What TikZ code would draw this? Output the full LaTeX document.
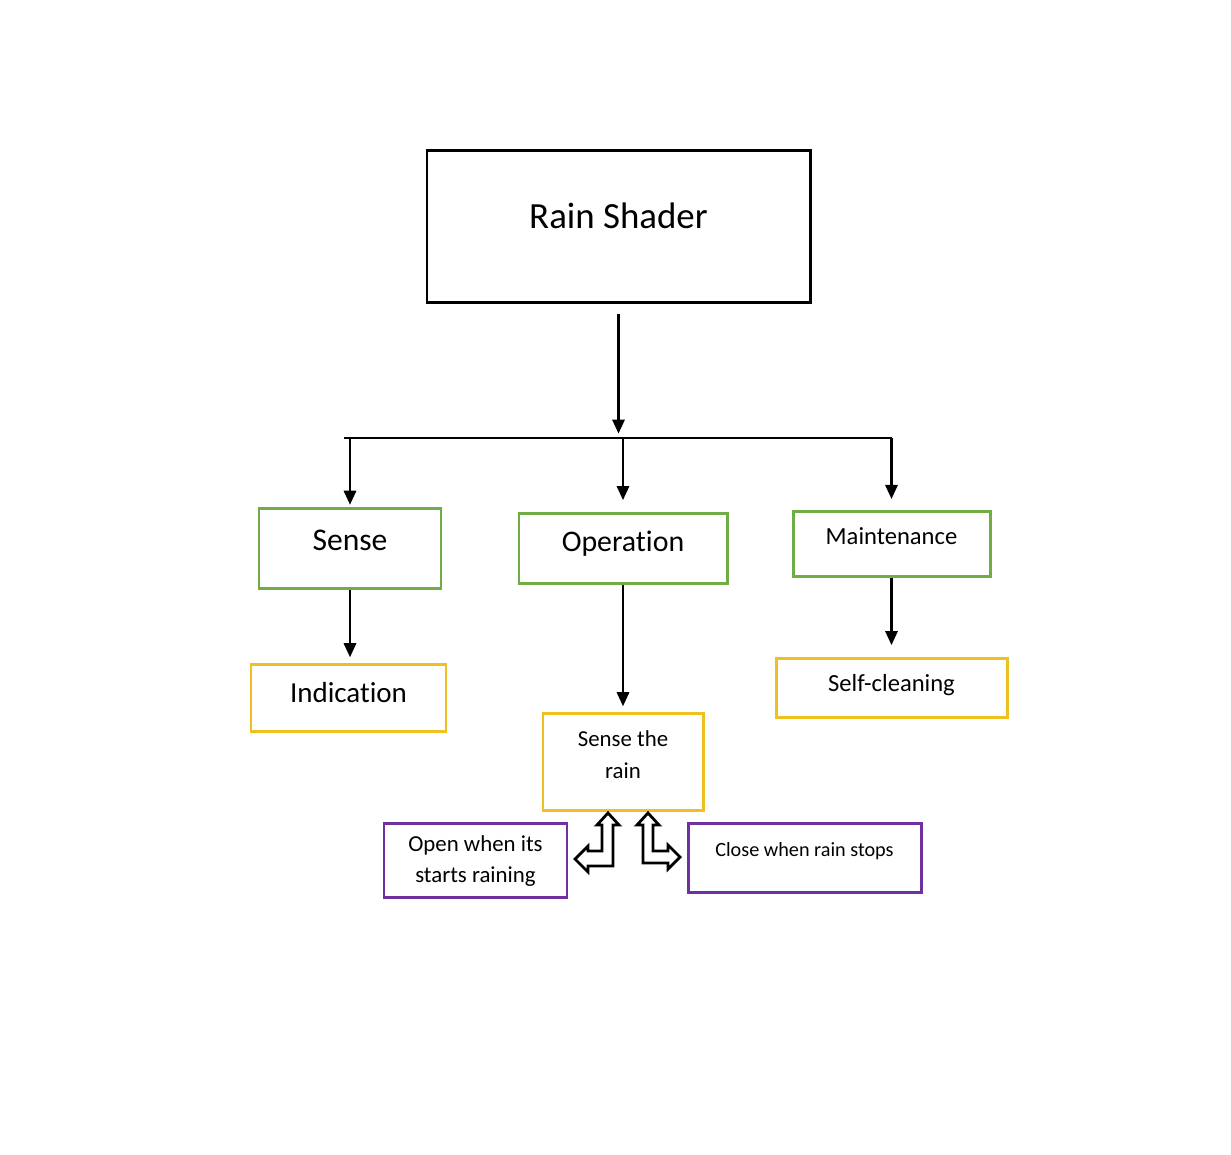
\documentclass[tikz,border=0pt]{standalone}
\usepackage{fontspec}
\setmainfont{Carlito}[Ligatures=NoCommon]
\usetikzlibrary{arrows.meta}
\definecolor{levelgreen}{RGB}{112,173,71}
\definecolor{levelgold}{RGB}{240,192,30}
\definecolor{levelpurple}{RGB}{112,48,160}
\newlength\pxu
\setlength\pxu{0.02cm}

\begin{document}
\begin{tikzpicture}[x=0.02cm, y=-0.02cm, >={Triangle[length=8pt,width=7pt]},
  topbox/.style={draw=black, line width=1.7pt, align=center},
  greenbox/.style={draw=levelgreen, line width=1.7pt, align=center},
  goldbox/.style={draw=levelgold, line width=1.7pt, align=center},
  purplebox/.style={draw=levelpurple, line width=1.7pt, align=center},
  link/.style={line width=1.3pt, ->},
  bentarrow/.style={draw=black, line width=1.6pt, fill=white, line join=miter}]
\useasboundingbox (0,0) rectangle (1231,1154);

% boxes, centres in pixels of the sketch
\node [topbox, minimum width=383\pxu, minimum height=152\pxu, text depth=20\pxu,
  font=\fontsize{21}{25}\selectfont] (shader) at (618.5,226) {Rain Shader};

\node [greenbox, minimum width=182\pxu, minimum height=80\pxu, text depth=16\pxu,
  font=\fontsize{18}{22}\selectfont] (sense) at (350,548) {Sense};
\node [greenbox, minimum width=208\pxu, minimum height=70\pxu, text depth=14\pxu,
  font=\fontsize{17}{21}\selectfont] (oper) at (623,548) {Operation};
\node [greenbox, minimum width=197\pxu, minimum height=65\pxu, text depth=14\pxu,
  font=\fontsize{14}{17}\selectfont] (maint) at (891.5,543.5) {Maintenance};

\node [goldbox, minimum width=195\pxu, minimum height=67\pxu, text depth=10\pxu,
  font=\fontsize{16.5}{20}\selectfont] (indic) at (348.5,697.5) {Indication};
\node [goldbox, minimum width=160\pxu, minimum height=97\pxu, text depth=14\pxu,
  font=\fontsize{13}{18.7}\selectfont] (rain) at (623,761.5) {Sense the\\rain};
\node [goldbox, minimum width=231\pxu, minimum height=59\pxu, text depth=10\pxu,
  font=\fontsize{14}{17}\selectfont] (selfc) at (891.5,687.5) {Self-cleaning};

\node [purplebox, minimum width=183\pxu, minimum height=74\pxu, text depth=2\pxu,
  font=\fontsize{13}{17.5}\selectfont] (open) at (475.5,860) {Open when its\\starts raining};
\node [purplebox, minimum width=233\pxu, minimum height=69\pxu, text depth=16\pxu,
  font=\fontsize{11.5}{14}\selectfont] (close) at (804.5,857.5) {Close when rain stops};

% tree lines
\coordinate (busL) at (344,438);
\draw [link, shorten >=2.5pt] ([yshift=-6pt]shader.south) -- (shader.south |- busL);
\draw [line width=1.3pt] (busL) -- (maint.north |- busL);
\draw [link, shorten >=1pt] (sense.north |- busL) -- (sense.north);
\draw [link, shorten >=6.5pt] (oper.north |- busL) -- (oper.north);
\draw [link, shorten >=6pt] (maint.north |- busL) -- (maint.north);
\draw [link, shorten >=3pt] (sense.south) -- (sense.south |- indic.north);
\draw [link, shorten >=3pt] (oper.south) -- (rain.north);
\draw [link, shorten >=6.5pt] (maint.south) -- (maint.south |- selfc.north);

% bent block arrows under Sense the rain
\draw [bentarrow] (608,813) -- (619,825) -- (613,825) -- (613,866) -- (588,866)
  -- (588,872) -- (575,859) -- (588,846) -- (588,851) -- (602,851) -- (602,825)
  -- (597,825) -- cycle;
\draw [bentarrow] (648,813) -- (659,825) -- (653,825) -- (653,851) -- (668,851)
  -- (668,845) -- (680,857) -- (668,869) -- (668,863) -- (643,863) -- (643,825)
  -- (637,825) -- cycle;

\end{tikzpicture}
\end{document}
